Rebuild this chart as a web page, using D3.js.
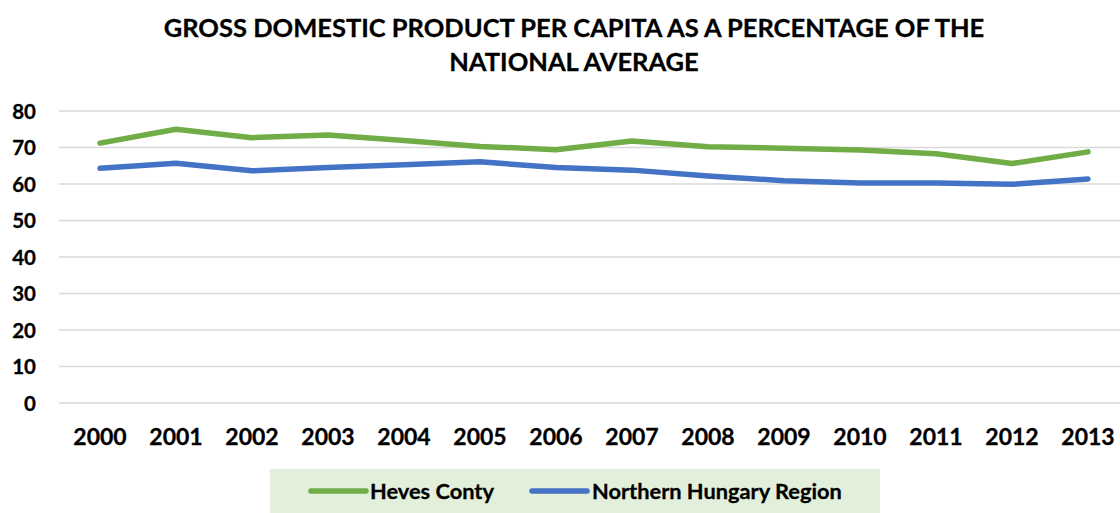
<!DOCTYPE html>
<html>
<head>
<meta charset="utf-8">
<script src="https://cdn.jsdelivr.net/npm/d3@7"></script>
<style>
  html, body { margin: 0; padding: 0; background: #fff; }
  svg { display: block; }
  text { font-family: Lato, "Open Sans", sans-serif; font-weight: 700; fill: #000; }
</style>
</head>
<body>
<svg id="chart" width="1120" height="513"></svg>
<script>
const years = ["2000","2001","2002","2003","2004","2005","2006","2007","2008","2009","2010","2011","2012","2013"];
const hevesCounty = [71.2, 75.0, 72.7, 73.4, 71.9, 70.3, 69.4, 71.8, 70.2, 69.8, 69.3, 68.3, 65.6, 68.8];
const northernHungary = [64.3, 65.7, 63.6, 64.5, 65.3, 66.1, 64.5, 63.8, 62.2, 60.9, 60.3, 60.3, 59.9, 61.4];
const yTicks = [0, 10, 20, 30, 40, 50, 60, 70, 80];
const titleLines = ["GROSS DOMESTIC PRODUCT PER CAPITA AS A PERCENTAGE OF THE", "NATIONAL AVERAGE"];
const seriesNames = ["Heves Conty", "Northern Hungary Region"];
const seriesColors = ["#70AD47", "#4472C4"];

const svg = d3.select("#chart");

// title
svg.append("g").selectAll("text").data(titleLines).join("text")
  .attr("x", 574).attr("y", (d, i) => 37 + i * 34)
  .attr("text-anchor", "middle").style("font-size", "25.5px")
  .style("stroke", "#000").style("stroke-width", 0.3)
  .text(d => d);

const x = d3.scaleBand().domain(years).range([62, 1126]);
const y = d3.scaleLinear().domain([0, 80]).range([403, 111]);

// gridlines
svg.append("g").selectAll("line").data(yTicks).join("line")
  .attr("x1", 59).attr("x2", 1120)
  .attr("y1", d => y(d)).attr("y2", d => y(d))
  .attr("stroke", "#D9D9D9").attr("stroke-width", 1.5);

// y axis
const yAxis = svg.append("g").attr("transform", "translate(36,0)")
  .call(d3.axisLeft(y).tickValues(yTicks).tickSize(0).tickPadding(0));
yAxis.select(".domain").remove();
yAxis.selectAll("text").style("font-size", "20.5px").style("font-family", "Lato")
  .style("font-weight", 700).style("stroke", "#000").style("stroke-width", 0.3).attr("dy", "0.36em");

// x axis
const xAxis = svg.append("g").attr("transform", "translate(0,428)")
  .call(d3.axisBottom(x).tickSize(0).tickPadding(0));
xAxis.select(".domain").remove();
xAxis.selectAll("text").style("font-size", "23px").style("font-family", "Lato")
  .style("font-weight", 700).style("stroke", "#000").style("stroke-width", 0.3).attr("dy", "0.72em");

// lines
const line = d3.line().x((d, i) => x(years[i]) + x.bandwidth() / 2).y(d => y(d));
[hevesCounty, northernHungary].forEach((s, k) => {
  svg.append("path").datum(s)
    .attr("d", line)
    .attr("fill", "none")
    .attr("stroke", seriesColors[k])
    .attr("stroke-width", 5.5)
    .attr("stroke-linecap", "round")
    .attr("stroke-linejoin", "round");
});

// legend
const lg = svg.append("g");
lg.append("rect").attr("x", 270).attr("y", 469).attr("width", 610).attr("height", 46).attr("fill", "#E2EFDA");
const legendItems = [
  {x1: 311, x2: 366, tx: 370},
  {x1: 532, x2: 587, tx: 592}
];
legendItems.forEach((it, k) => {
  lg.append("line").attr("x1", it.x1).attr("x2", it.x2).attr("y1", 491).attr("y2", 491)
    .attr("stroke", seriesColors[k]).attr("stroke-width", 5.5).attr("stroke-linecap", "round");
  lg.append("text").attr("x", it.tx).attr("y", 499).style("font-size", "21.8px")
    .style("stroke", "#000").style("stroke-width", 0.3).text(seriesNames[k]);
});
</script>
</body>
</html>
